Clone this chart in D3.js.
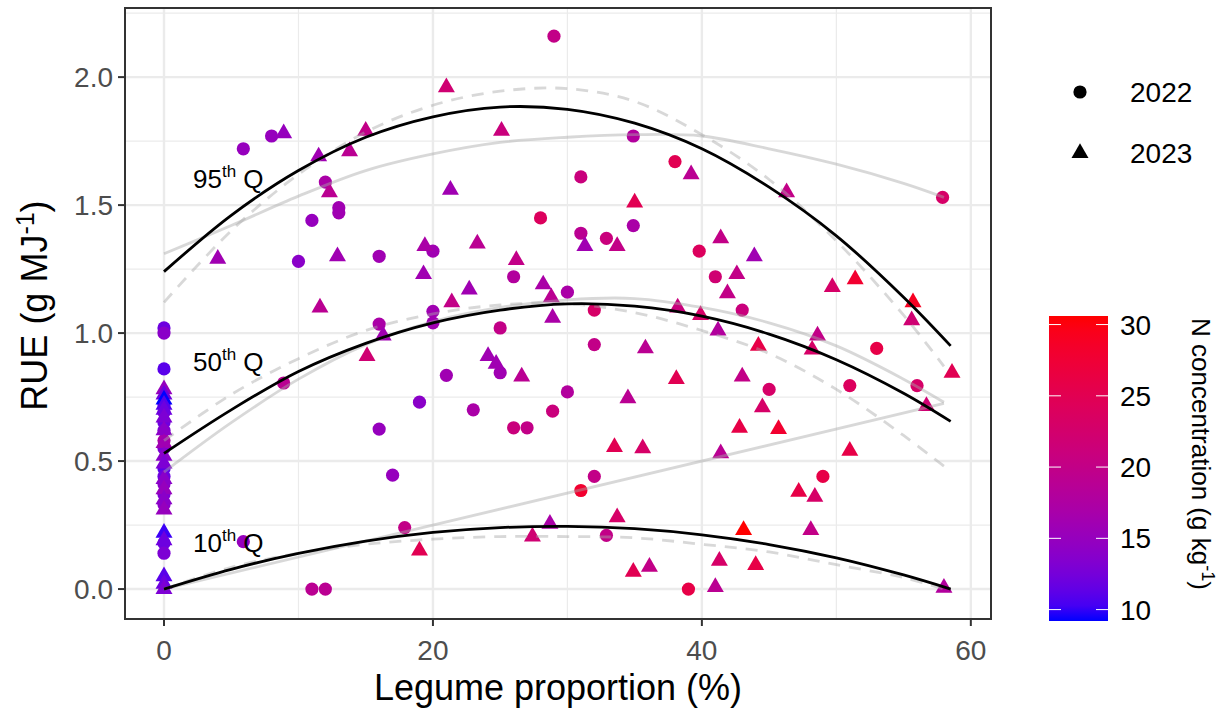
<!DOCTYPE html>
<html>
<head>
<meta charset="utf-8">
<script src="https://cdn.jsdelivr.net/npm/d3@7"></script>
<style>
  body { margin: 0; background: #fff; }
  text { font-family: "Liberation Sans", Arial, Helvetica, sans-serif; }
</style>
</head>
<body>
<div id="chart"></div>
<script>
// punten uit 2022 (cirkels)
const legume22 = [0,0,0,0,0,0,0,0,0,0,0,0,0,0,0,0,
  29,5.9,8,34.9,38,12,13,13,11,31,28,31,32.9,34.9,39.8,57.9,10,16,20,26,30,20,20,32,41,43,16,25,32,8.9,
  21,25,19,23,30,28.9,26,27,16,17,32,31,32.9,17.9,5.9,11,12,39,45,51,56,53,49]
const rue22 = [1.02,1.0,0.86,0.72,0.69,0.65,0.62,0.58,0.55,0.47,0.44,0.41,0.37,0.33,0.18,0.14,
  2.16,1.72,1.77,1.77,1.67,1.59,1.49,1.47,1.44,1.61,1.45,1.39,1.37,1.42,1.32,1.53,1.28,1.30,1.32,1.22,1.16,1.085,1.04,1.09,1.22,1.09,1.035,1.02,0.955,0.805,
  0.835,0.845,0.73,0.70,0.77,0.695,0.63,0.63,0.625,0.445,0.44,0.385,0.21,0.24,0.185,0,0,0,0.78,0.795,0.795,0.94,0.44]
const n22 = [12,14,11,12,13,12,13,17,13,11,12,14,13,14,12,13,
  20,15,15,18,25,17,16,16,15,21,24,19,21,17,24,23,14,16,16,18,17,16,16,23,22,21,17,20,20,19,
  16,16,14,17,18,21,21,20,15,15,20,28,20,20,15,19,19,26,23,24,23,26,26]

// punten uit 2023 (driehoeken)
const legume23 = [0,0,0,0,0,0,0,0,0,0,0,0,0,0,0,0,0,0,0,
  21,8.9,15,11.5,13.8,12.3,21.3,25.1,35,39.2,46.3,4,12.9,19.4,19.3,23.3,26.2,22.7,21.4,28.2,
  28.8,28.9,31.3,33.7,11.6,16.3,15.1,24.1,24.7,26.6,35.8,38.1,34.5,33.5,35.6,33.7,28.7,27.4,19,34.9,
  36.1,41.4,43.9,42.6,41.9,49.7,51.4,55.7,55.6,39.9,41.2,44.2,48.6,48.2,58.6,43,44.5,56.7,42.8,45.7,
  41.4,51,47.2,48.4,48.1,43.1,41.3,44,41,58,38.2]
const rue23 = [0.78,0.76,0.74,0.72,0.70,0.67,0.62,0.57,0.52,0.49,0.43,0.39,0.35,0.31,0.22,0.19,0.05,0.02,0.0,
  1.96,1.78,1.79,1.69,1.71,1.55,1.56,1.79,1.51,1.62,1.55,1.29,1.30,1.34,1.23,1.35,1.285,1.17,1.12,1.19,
  1.14,1.06,1.34,1.34,1.10,0.99,0.91,0.91,0.88,0.83,0.94,0.82,0.745,0.555,0.55,0.28,0.255,0.205,0.15,0.067,
  0.087,1.37,1.30,1.23,1.155,1.18,1.21,1.12,1.05,1.07,1.01,0.95,0.99,0.935,0.845,0.83,0.71,0.715,0.63,0.625,
  0.53,0.54,0.38,0.36,0.23,0.23,0.11,0.094,0.008,0.005,1.10]
const n23 = [15,12,9.2,11,12,13,14,16,14,13,14,15,14,15,10,12,11,12,13,
  22,15,20,16,19,19,16,21,25,19,20,16,16,17,16,19,20,16,20,17,
  19,17,16,20,19,16,22,16,16,19,19,25,19,25,23,23,17,22,25,25,
  20,20,16,20,20,23,28,29,22,23,18,26,20,23,25,20,23,22,26,28,
  19,26,26,23,20,30.6,23,26,19,18,21]

const blackX = [0,5,10,15,20,25,30,35,40,45,50,55,58.5]
const q95 = [1.24,1.46,1.635,1.765,1.845,1.883,1.874,1.82,1.72,1.57,1.38,1.14,0.95]
const q50 = [0.53,0.70,0.85,0.96,1.04,1.09,1.114,1.105,1.066,0.996,0.896,0.765,0.655]
const q10 = [0,0.077,0.139,0.187,0.221,0.24,0.245,0.236,0.212,0.174,0.122,0.055,0.0]

const grayX = [0,5,10,15,20,25,30,35,40,45,50,55,58]
const dash95 = [1.12,1.40,1.62,1.785,1.89,1.945,1.955,1.905,1.775,1.60,1.36,1.07,0.87]
const dash50 = [0.58,0.76,0.90,1.01,1.075,1.11,1.115,1.08,1.01,0.92,0.78,0.60,0.48]
const dash10 = [0,0.085,0.14,0.175,0.195,0.205,0.205,0.2,0.175,0.145,0.095,0.045,0]
const solid95 = [1.31,1.42,1.535,1.635,1.70,1.745,1.765,1.775,1.77,1.72,1.66,1.585,1.53]
const solid50 = [0.457,0.65,0.82,0.955,1.045,1.10,1.13,1.135,1.10,1.04,0.95,0.82,0.73]
const lineX10 = [0,58]
const solid10 = [0,0.725]

const xTicks = [0,20,40,60]
const yTicks = [0,0.5,1.0,1.5,2.0]
const xMinor = [10,30,50]
const yMinor = [0.25,0.75,1.25,1.75,2.25]
const nTicks = [10,15,20,25,30]
const qLabels = [{q:"95", y:1.565}, {q:"50", y:0.85}, {q:"10", y:0.145}]

const width = 1220
const height = 715
const panel = {left: 125, right: 991, top: 8, bottom: 619}

var svg = d3.select("#chart").append("svg")
    .attr("width", width)
    .attr("height", height)

var xScale = d3.scaleLinear().domain([-2.9, 61.5]).range([panel.left, panel.right])
var yScale = d3.scaleLinear().domain([-0.117, 2.27]).range([panel.bottom, panel.top])

const allN = n22.concat(n23)
var colour = d3.scaleLinear()
    .domain(d3.extent(allN))
    .range(["#0000ff", "#ff0000"])
    .interpolate(d3.interpolateLab)

// grid
var grid = svg.append("g")
grid.selectAll(".xminor").data(xMinor).enter().append("line")
    .attr("x1", d => xScale(d)).attr("x2", d => xScale(d))
    .attr("y1", panel.top).attr("y2", panel.bottom)
    .attr("stroke", "#ebebeb").attr("stroke-width", 1.2)
grid.selectAll(".yminor").data(yMinor).enter().append("line")
    .attr("y1", d => yScale(d)).attr("y2", d => yScale(d))
    .attr("x1", panel.left).attr("x2", panel.right)
    .attr("stroke", "#ebebeb").attr("stroke-width", 1.2)
grid.selectAll(".xmajor").data(xTicks).enter().append("line")
    .attr("x1", d => xScale(d)).attr("x2", d => xScale(d))
    .attr("y1", panel.top).attr("y2", panel.bottom)
    .attr("stroke", "#ebebeb").attr("stroke-width", 2.4)
grid.selectAll(".ymajor").data(yTicks).enter().append("line")
    .attr("y1", d => yScale(d)).attr("y2", d => yScale(d))
    .attr("x1", panel.left).attr("x2", panel.right)
    .attr("stroke", "#ebebeb").attr("stroke-width", 2.4)

// punten
function pointsOf(xs, ys, ns) {
  return xs.map((x, i) => ({x: x, y: ys[i], n: ns[i]}))
}
var pts = svg.append("g")
pts.selectAll(".c22").data(pointsOf(legume22, rue22, n22)).enter().append("circle")
    .attr("cx", d => xScale(d.x)).attr("cy", d => yScale(d.y))
    .attr("r", 6.6)
    .attr("fill", d => colour(d.n))
pts.selectAll(".t23").data(pointsOf(legume23, rue23, n23)).enter().append("path")
    .attr("d", d3.symbol().type(d3.symbolTriangle).size(125))
    .attr("transform", d => "translate(" + xScale(d.x) + "," + yScale(d.y) + ")")
    .attr("fill", d => colour(d.n))

// lijnen
function drawCurve(xs, ys, stroke, opacity, dash, w) {
  var line = d3.line()
      .x(d => xScale(d[0]))
      .y(d => yScale(d[1]))
      .curve(d3.curveCatmullRom)
  svg.append("path")
      .datum(xs.map((x, i) => [x, ys[i]]))
      .attr("d", line)
      .attr("fill", "none")
      .attr("stroke", stroke)
      .attr("stroke-opacity", opacity)
      .attr("stroke-width", w)
      .attr("stroke-dasharray", dash)
}
drawCurve(grayX, solid95, "#a8a8a8", 0.45, null, 2.8)
drawCurve(grayX, solid50, "#a8a8a8", 0.45, null, 2.8)
drawCurve(lineX10, solid10, "#a8a8a8", 0.45, null, 2.8)
drawCurve(grayX, dash95, "#a8a8a8", 0.45, "12,9", 2.8)
drawCurve(grayX, dash50, "#a8a8a8", 0.45, "12,9", 2.8)
drawCurve(grayX, dash10, "#a8a8a8", 0.45, "12,9", 2.8)
drawCurve(blackX, q95, "#000", 1, null, 2.8)
drawCurve(blackX, q50, "#000", 1, null, 2.8)
drawCurve(blackX, q10, "#000", 1, null, 2.8)

// kwantiel labels
qLabels.forEach(function(l) {
  var t = svg.append("text")
      .attr("x", 193).attr("y", yScale(l.y))
      .attr("font-size", 26).attr("fill", "#000")
  t.append("tspan").text(l.q)
  t.append("tspan").attr("dy", -11).attr("font-size", 17).text("th")
  t.append("tspan").attr("dy", 11).text(" Q")
})

// kader
svg.append("rect")
    .attr("x", panel.left).attr("y", panel.top)
    .attr("width", panel.right - panel.left).attr("height", panel.bottom - panel.top)
    .attr("fill", "none").attr("stroke", "#333").attr("stroke-width", 2)

// assen
svg.selectAll(".xtick").data(xTicks).enter().append("line")
    .attr("x1", d => xScale(d)).attr("x2", d => xScale(d))
    .attr("y1", panel.bottom).attr("y2", panel.bottom + 7)
    .attr("stroke", "#333").attr("stroke-width", 2)
svg.selectAll(".xlab").data(xTicks).enter().append("text")
    .attr("x", d => xScale(d)).attr("y", 660)
    .attr("text-anchor", "middle").attr("font-size", 28).attr("fill", "#4d4d4d")
    .text(d => d)
svg.selectAll(".ytick").data(yTicks).enter().append("line")
    .attr("y1", d => yScale(d)).attr("y2", d => yScale(d))
    .attr("x1", panel.left - 7).attr("x2", panel.left)
    .attr("stroke", "#333").attr("stroke-width", 2)
svg.selectAll(".ylab").data(yTicks).enter().append("text")
    .attr("x", 113).attr("y", d => yScale(d) + 10)
    .attr("text-anchor", "end").attr("font-size", 28).attr("fill", "#4d4d4d")
    .text(d => d3.format(".1f")(d))

svg.append("text")
    .attr("x", (panel.left + panel.right) / 2).attr("y", 700)
    .attr("text-anchor", "middle").attr("font-size", 36)
    .text("Legume proportion (%)")

var yt = svg.append("text")
    .attr("transform", "translate(47," + ((panel.top + panel.bottom) / 2 - 8) + ") rotate(-90)")
    .attr("text-anchor", "middle").attr("font-size", 36)
yt.append("tspan").text("RUE (g MJ")
yt.append("tspan").attr("dy", -13).attr("font-size", 25).text("-1")
yt.append("tspan").attr("dy", 13).text(")")

// legenda jaar
svg.append("circle").attr("cx", 1080).attr("cy", 92).attr("r", 6.6).attr("fill", "#000")
svg.append("path")
    .attr("d", d3.symbol().type(d3.symbolTriangle).size(125))
    .attr("transform", "translate(1080,153)").attr("fill", "#000")
svg.append("text").attr("x", 1130).attr("y", 102).attr("font-size", 28).text("2022")
svg.append("text").attr("x", 1130).attr("y", 163).attr("font-size", 28).text("2023")

// kleurenbalk
var nScale = d3.scaleLinear().domain(d3.extent(allN)).range([621, 316])
var grad = svg.append("defs").append("linearGradient")
    .attr("id", "ngrad").attr("x1", 0).attr("y1", 1).attr("x2", 0).attr("y2", 0)
d3.range(0, 1.0001, 0.05).forEach(function(t) {
  var ext = d3.extent(allN)
  grad.append("stop").attr("offset", t)
      .attr("stop-color", colour(ext[0] + t * (ext[1] - ext[0])))
})
svg.append("rect")
    .attr("x", 1049).attr("y", 316).attr("width", 59).attr("height", 305)
    .attr("fill", "url(#ngrad)")
svg.selectAll(".nt1").data(nTicks).enter().append("line")
    .attr("x1", 1049).attr("x2", 1061)
    .attr("y1", d => nScale(d)).attr("y2", d => nScale(d))
    .attr("stroke", "#fff").attr("stroke-width", 1)
svg.selectAll(".nt2").data(nTicks).enter().append("line")
    .attr("x1", 1096).attr("x2", 1108)
    .attr("y1", d => nScale(d)).attr("y2", d => nScale(d))
    .attr("stroke", "#fff").attr("stroke-width", 1)
svg.selectAll(".nlab").data(nTicks).enter().append("text")
    .attr("x", 1120).attr("y", d => nScale(d) + 10)
    .attr("font-size", 28).text(d => d)

var nt = svg.append("text")
    .attr("transform", "translate(1192,318) rotate(90)")
    .attr("font-size", 26)
nt.append("tspan").text("N concentration (g kg")
nt.append("tspan").attr("dy", -10).attr("font-size", 18).text("-1")
nt.append("tspan").attr("dy", 10).text(")")
</script>
</body>
</html>
